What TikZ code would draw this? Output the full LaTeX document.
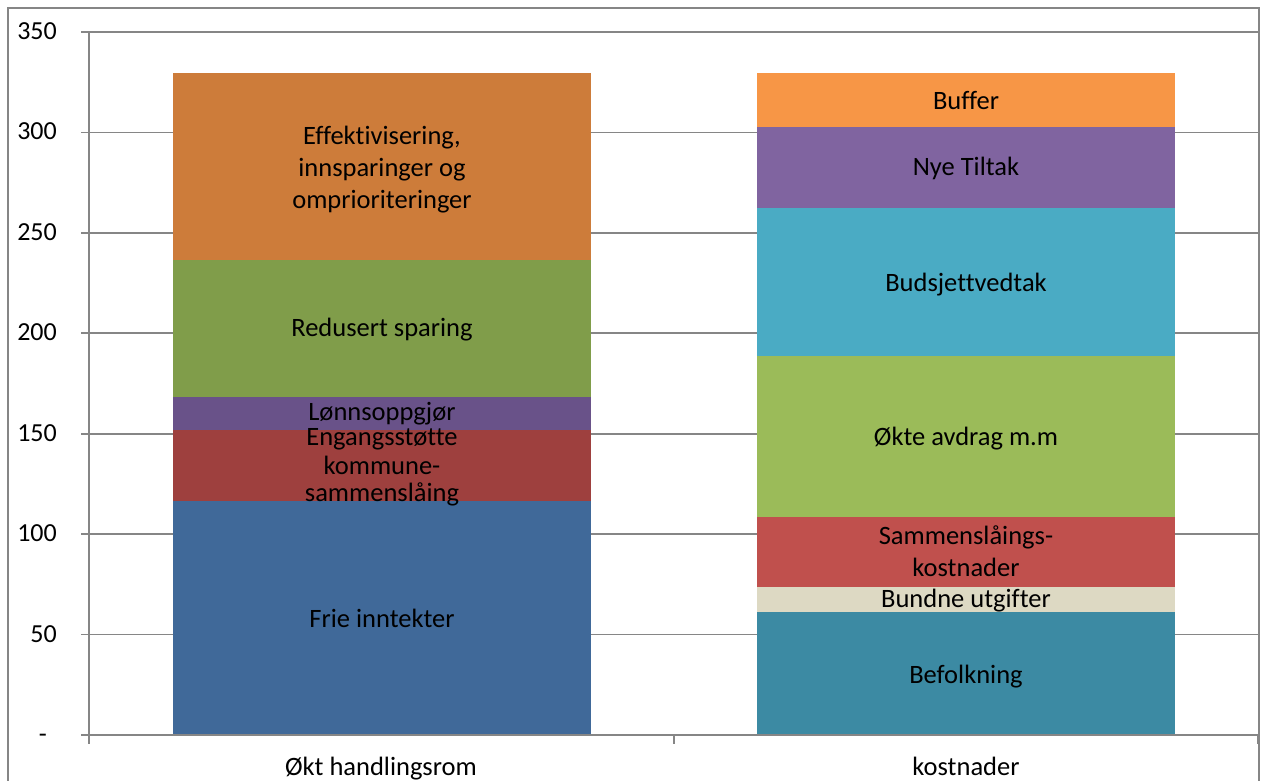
\documentclass[tikz,border=0pt]{standalone}
\usepackage{fontspec}
\setmainfont{Carlito}[Ligatures={NoCommon}]
\definecolor{gridgray}{RGB}{134,134,134}
\definecolor{cEff}{RGB}{205,124,58}
\definecolor{cRed}{RGB}{128,157,74}
\definecolor{cLon}{RGB}{105,82,137}
\definecolor{cEng}{RGB}{158,64,62}
\definecolor{cFri}{RGB}{64,105,153}
\definecolor{cBuf}{RGB}{247,150,70}
\definecolor{cNye}{RGB}{128,100,160}
\definecolor{cBud}{RGB}{74,171,196}
\definecolor{cOkt}{RGB}{155,187,89}
\definecolor{cSam}{RGB}{192,80,77}
\definecolor{cBun}{RGB}{221,217,195}
\definecolor{cBef}{RGB}{60,138,163}
\begin{document}
\begin{tikzpicture}[x=1pt,y=-1pt,
  lbl/.style={font=\fontsize{26.5}{31}\selectfont, anchor=base, inner sep=0pt, text=black},
  ylbl/.style={font=\fontsize{26}{31}\selectfont, anchor=base east, inner sep=0pt, text=black},
  gridln/.style={draw=gridgray, line width=1.6pt},
  frameln/.style={draw=gridgray, line width=1.7pt}]
\useasboundingbox (0,0) rectangle (1261,780);
\fill[white] (0,0) rectangle (1261,780);
% outer frame
\draw[frameln] (8,781) -- (8,8) -- (1259,8) -- (1259,781);
% gridlines
\foreach \v/\t in {50/50,100/100,150/150,200/200,250/250,300/300,350/350}{
  \draw[gridln] (81,{735-\v*2.0086}) -- (1258,{735-\v*2.0086});
  \node[ylbl] (y\v) at (57,{735-\v*2.0086+7.5}) {\t};
}
\node[ylbl] (y0) at (47,742.5) {-};
% bar 1
\fill[cFri] (173,735) rectangle (591,500.7);
\fill[cEng] (173,500.7) rectangle (591,430);
\fill[cLon] (173,430) rectangle (591,396.7);
\fill[cRed] (173,396.7) rectangle (591,259.7);
\fill[cEff] (173,259.7) rectangle (591,73);
% bar 2
\fill[cBef] (757,735) rectangle (1175,611.7);
\fill[cBun] (757,611.7) rectangle (1175,586.7);
\fill[cSam] (757,586.7) rectangle (1175,517);
\fill[cOkt] (757,517) rectangle (1175,356);
\fill[cBud] (757,356) rectangle (1175,207.7);
\fill[cNye] (757,207.7) rectangle (1175,126.7);
\fill[cBuf] (757,126.7) rectangle (1175,73);
% axes
\draw[gridln] (89,32) -- (89,744);
\draw[gridln] (81,735) -- (1258,735);
\draw[gridln] (674,735) -- (674,744);
\draw[gridln] (1258,735) -- (1258,744);
% labels bar 1
\node[lbl] (eff1) at (382,144) {Effektivisering,};
\node[lbl] (eff2) at (382,176) {innsparinger og};
\node[lbl] (eff3) at (382,208.3) {omprioriteringer};
\node[lbl] (red) at (382,336.7) {Redusert sparing};
\node[lbl] (lon) at (382,420.7) {Lønnsoppgjør};
\node[lbl] (eng1) at (382,445) {Engangsstøtte};
\node[lbl] (eng2) at (382,474) {kommune-};
\node[lbl] (eng3) at (382,501.7) {sammenslåing};
\node[lbl] (fri) at (382,627) {Frie inntekter};
% labels bar 2
\node[lbl] (buf) at (966,109) {Buffer};
\node[lbl] (nye) at (966,175.7) {Nye Tiltak};
\node[lbl] (bud) at (966,291) {Budsjettvedtak};
\node[lbl] (okt) at (966,445.7) {Økte avdrag m.m};
\node[lbl] (sam1) at (966,544) {Sammenslåings-};
\node[lbl] (sam2) at (966,576) {kostnader};
\node[lbl] (bun) at (966,607.7) {Bundne utgifter};
\node[lbl] (bef) at (966,683) {Befolkning};
% category labels
\node[lbl] (cat1) at (381,775) {Økt handlingsrom};
\node[lbl] (cat2) at (966,775) {kostnader};
\end{tikzpicture}
\end{document}
